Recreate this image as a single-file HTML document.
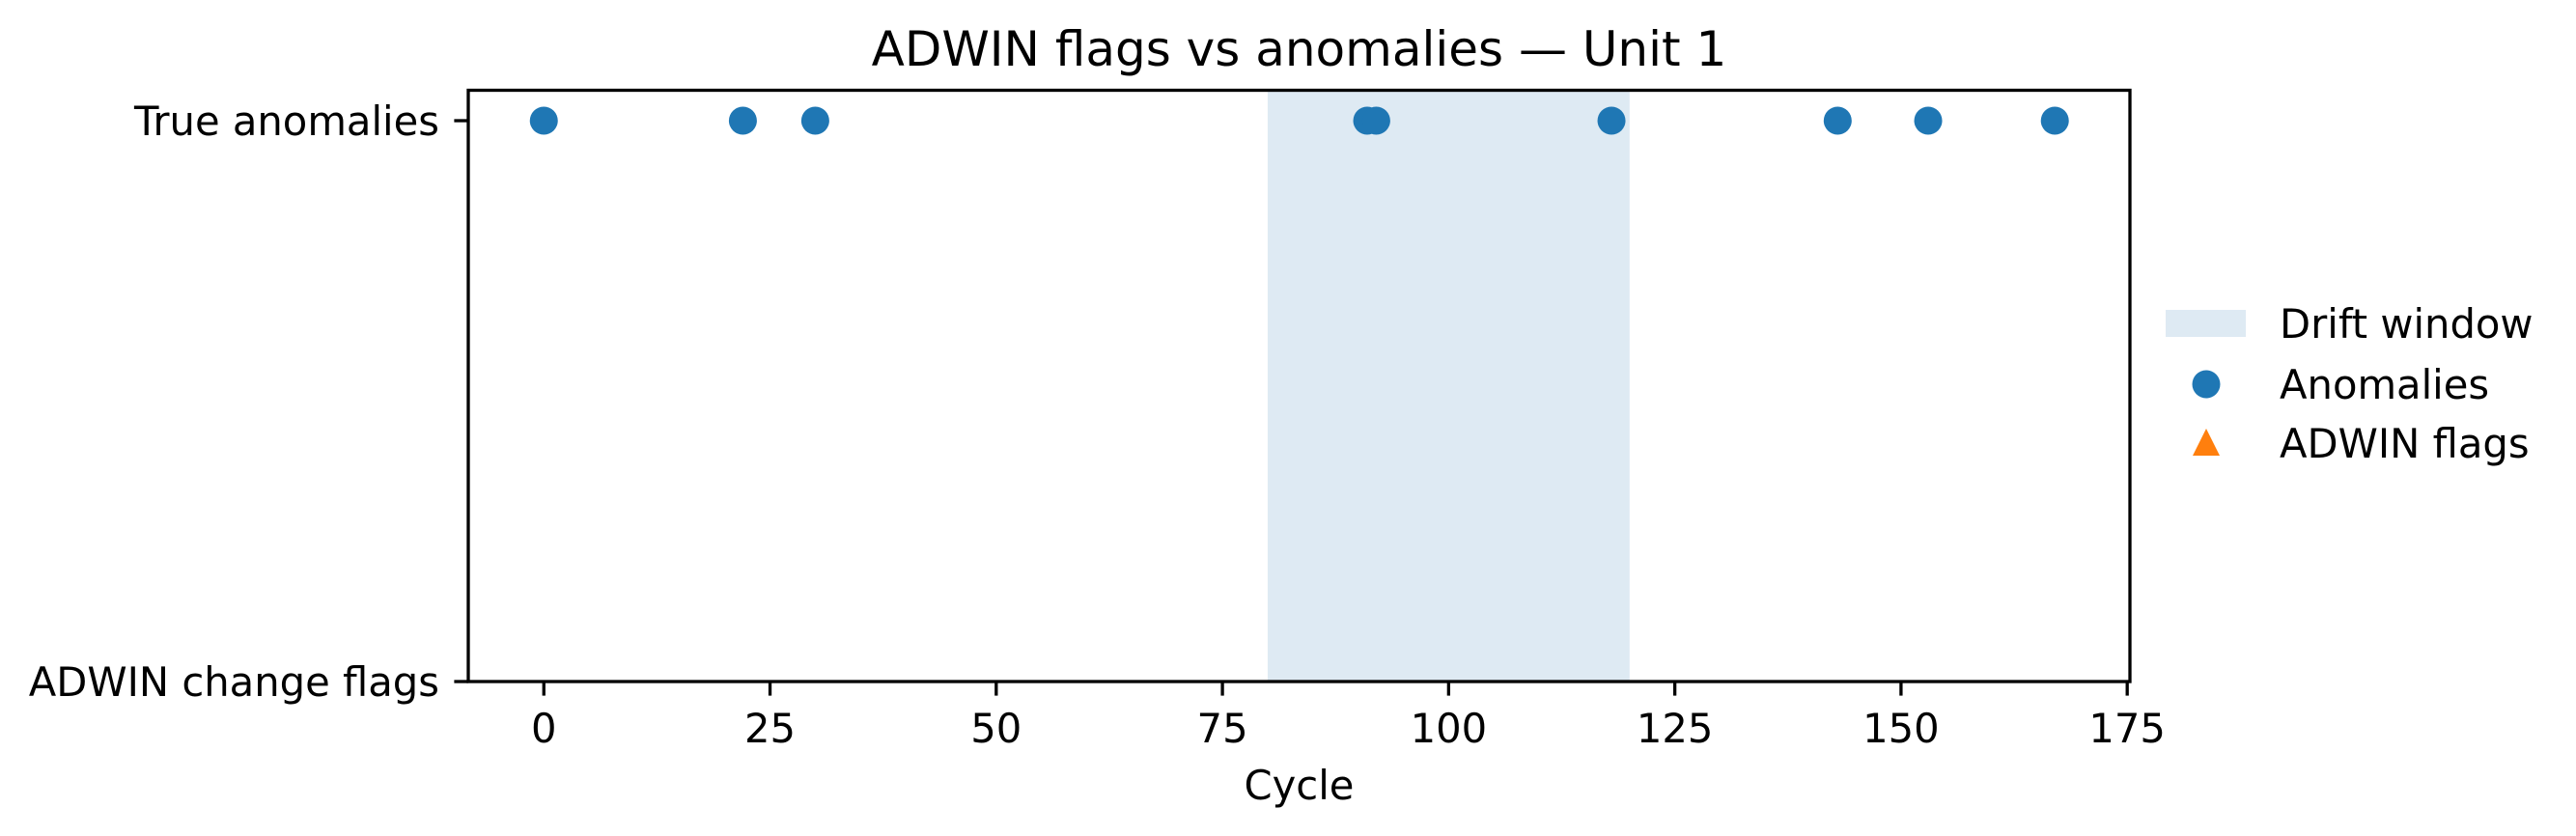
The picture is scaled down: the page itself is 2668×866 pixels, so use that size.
<!DOCTYPE html>
<html><head><meta charset="utf-8"><style>
html,body{margin:0;padding:0;background:#fff;}
svg{display:block;font-family:"DejaVu Sans","Liberation Sans",sans-serif;}
</style></head><body>
<svg id="chart" width="2668" height="866" viewBox="0 0 2668 866" xmlns="http://www.w3.org/2000/svg">
<g id="plot"></g>
</svg>
<script>
const anomalyCycles = [0, 22, 30, 91, 92, 118, 143, 153, 167];
const adwinFlagCycles = [];
const driftWindow = [80, 120];
const xTicks = [0, 25, 50, 75, 100, 125, 150, 175];
const yCategories = ["ADWIN change flags", "True anomalies"];

const L = 485, R = 2206, T = 93.5, B = 706;
const xMin = -8.35, xMax = 175.3;
const X = v => L + (v - xMin) / (xMax - xMin) * (R - L);
const Y = v => 706 - v * (706 - 125);
const NS = "http://www.w3.org/2000/svg";
const g = document.getElementById('plot');
function el(tag, attrs, parent) {
  const e = document.createElementNS(NS, tag);
  for (const k in attrs) e.setAttribute(k, attrs[k]);
  (parent || g).appendChild(e);
  return e;
}
function txt(s, attrs) { const e = el('text', attrs); e.textContent = s; return e; }

const span = el('rect', {x: X(driftWindow[0]), y: T, width: X(driftWindow[1]) - X(driftWindow[0]), height: B - T, fill: '#deeaf3'});



anomalyCycles.forEach(c => {
  const p = el('circle', {cx: X(c), cy: Y(1), r: 14.5, fill: '#1f77b4'});
  
  
});
adwinFlagCycles.forEach(c => {
  const x = X(c), y = Y(0);
  const p = el('polygon', {points: `${x},${y-16} ${x-14},${y+12} ${x+14},${y+12}`, fill: '#ff7f0e'});
  
  
});

const frame = el('rect', {x: L, y: T, width: R - L, height: B - T, fill: 'none', stroke: '#000', 'stroke-width': 3.3});



xTicks.forEach(t => {
  el('line', {x1: X(t), x2: X(t), y1: B, y2: B + 14.6, stroke: '#000', 'stroke-width': 3.3});
  const lb = txt(String(t), {x: X(t), y: 769, 'font-size': 41.7, 'text-anchor': 'middle', fill: '#000'});
  
  
});
yCategories.forEach((c, i) => {
  el('line', {x1: L - 14.6, x2: L, y1: Y(i), y2: Y(i), stroke: '#000', 'stroke-width': 3.3});
  const lb = txt(c, {x: 455, y: Y(i) + 15, 'font-size': 41.7, 'text-anchor': 'end', fill: '#000'});
  
  
});

const xt = txt('Cycle', {x: (L + R) / 2, y: 828, 'font-size': 41.7, 'text-anchor': 'middle', fill: '#000'});


const tt = txt('ADWIN flags vs anomalies — Unit 1', {x: (L + R) / 2, y: 68, 'font-size': 50, 'text-anchor': 'middle', fill: '#000'});



const lg = el('g', {});


el('rect', {x: 2243, y: 321, width: 83, height: 28, fill: '#deeaf3'}, lg);
el('circle', {cx: 2285, cy: 398, r: 14.5, fill: '#1f77b4'}, lg);
el('polygon', {points: '2285,444 2271,472 2299,472', fill: '#ff7f0e'}, lg);
[['Drift window', 350], ['Anomalies', 413], ['ADWIN flags', 474]].forEach(([s, y]) => {
  const e = el('text', {x: 2361, y: y, 'font-size': 41.7, fill: '#000'}, lg);
  e.textContent = s;
  
  
});
</script>
</body></html>
